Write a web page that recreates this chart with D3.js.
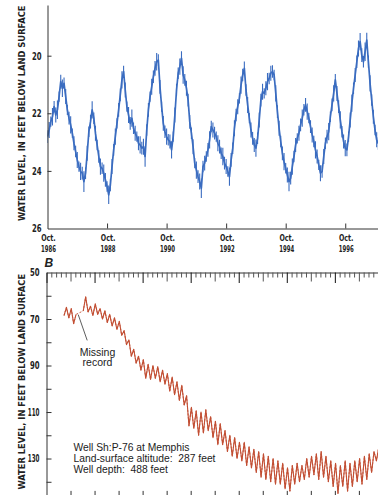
<!DOCTYPE html>
<html><head><meta charset="utf-8">
<script src="https://cdn.jsdelivr.net/npm/d3@7/dist/d3.min.js"></script>
<style>
html,body{margin:0;padding:0;background:#fff;}
svg{display:block;}
</style></head><body>
<svg id="c" width="378" height="495"></svg>
<script>
// ---------- Panel A data (water level) ----------
const topStartYear = 1986.75;      // Oct. 1986
const topStep = 1 / 18;            // years between readings
const topLevels = [
22.81,22.58,22.29,22.12,21.77,22.06,21.88,21.42,20.90,21.13,
20.96,21.42,21.88,22.17,22.40,22.69,23.04,23.33,23.62,23.85,
24.02,24.08,24.37,24.08,23.39,22.64,22.29,21.88,22.17,22.69,
23.10,23.50,23.85,23.91,24.08,24.31,24.54,24.83,24.49,23.85,
23.27,22.81,22.35,21.88,21.36,20.84,20.55,21.19,21.77,22.06,
22.35,22.17,22.52,22.69,22.81,23.04,23.10,23.21,23.16,23.50,
22.58,21.88,21.42,21.08,20.73,20.44,20.21,20.15,21.08,21.77,
22.35,22.64,22.81,22.92,22.98,23.27,22.81,22.06,21.19,20.61,
20.38,20.09,20.67,20.84,21.13,21.54,
22.30,
22.69,23.16,23.73,23.97,24.20,24.37,24.60,23.85,23.73,23.50,
23.27,22.92,22.46,22.58,22.69,22.81,23.04,23.16,23.39,23.50,
23.73,23.85,24.02,24.20,23.62,23.21,22.52,22.06,21.77,21.48,
21.02,20.67,20.44,21.19,21.71,22.17,22.58,22.87,23.10,23.21,
22.87,22.23,21.54,21.25,21.31,21.13,20.90,20.79,20.61,20.55,
20.67,21.31,21.94,22.52,22.98,23.39,23.68,23.91,24.14,24.37,
24.25,23.85,23.50,23.10,22.87,22.69,22.40,22.17,21.88,21.71,
21.94,22.17,22.46,22.75,22.98,23.27,23.50,23.79,24.08,24.02,
23.50,23.04,22.81,22.64,22.12,21.71,21.31,20.84,21.31,21.77,
22.23,22.64,22.98,23.21,23.27,22.81,22.23,21.65,21.13,20.67,
20.21,19.75,19.51,19.98,20.21,19.86,19.46,20.21,20.96,21.54,
22.12,22.58,22.92,23.05
];
// half-width of the daily fluctuation band around each reading (feet)
const topSpread = [
.22,.28,.18,.30,.20,.26,.32,.18,.24,.30,
.20,.26,.18,.22,.30,.16,.24,.20,.28,.18,
.30,.22,.36,.20,.26,.18,.24,.30,.20,.26,
.18,.22,.28,.20,.30,.24,.18,.32,.22,.26,
.20,.28,.18,.24,.22,.30,.20,.26,.18,.28,
.22,.30,.20,.26,.18,.24,.30,.22,.28,.36,
.20,.24,.18,.28,.22,.26,.30,.20,.24,.18,
.26,.22,.28,.20,.24,.30,.18,.26,.22,.20,
.28,.24,.30,.20,.26,.22,
.24,
.20,.26,.18,.30,.22,.28,.34,.20,.26,.18,
.24,.30,.20,.26,.22,.18,.28,.24,.20,.30,
.22,.26,.18,.32,.24,.20,.28,.22,.26,.18,
.30,.22,.24,.20,.28,.18,.26,.22,.24,.30,
.20,.26,.22,.28,.18,.24,.30,.20,.26,.22,
.18,.28,.22,.26,.20,.24,.30,.18,.26,.34,
.22,.28,.20,.24,.18,.26,.22,.30,.20,.24,
.28,.18,.22,.26,.20,.30,.24,.18,.28,.22,
.26,.20,.24,.30,.18,.22,.28,.20,.26,.22,
.30,.20,.24,.28,.22,.18,.26,.30,.20,.24,
.22,.28,.30,.24,.20,.32,.26,.22,.28,.20,
.24,.18,.26,.22
];
const topXTicks = [1986.75,1988.75,1990.75,1992.75,1994.75,1996.75];
const topXMonth = "Oct.";
const topXYears = ["1986","1988","1990","1992","1994","1996"];
const topYTicks = [20,22,24,26];

// ---------- Panel B data (Well Sh:P-76, half-yearly high/low) ----------
const bStartYear = 1933.65;
const bStep = 0.5;
const bLevels = [
68.5,65,69.5,65.5,72,68,null,null,66.5,60.5,
67,64.5,68.5,63.5,68,65.5,70,66.5,71.5,68,
73,69.5,74.5,71,77,75,81,79,86,83,
89,86,92,87.5,95.5,89.5,96,90,95.5,90.5,
97,92,98,93.5,101,95,102.5,97,105,98.5,
107,103,116,108,117,109.5,120,110,119,109,
118,112,121,114,124,115,124,118,127,120,
129,121,130,123,131,123,133,125,134,126,
136,127,138,128,139,129,140,130,141,131,
141,132,143,134,144,133,141,132,140,133,
139,130,138,129,137,128,139,127,138,129,
140,131,142,132,145,133,142,131,144,132,
142,131,140,130,141,129,139,128,136,127,
131,125
];
const bYTicks = [50,60,70,80,90,100,110,120,130,140];
const bYLabels = [50,70,90,110,130];
const bMinorYears = d3.range(1930, 1999);
const bBottomYears = d3.range(1935, 1999, 5);

const axisTitle = "WATER LEVEL, IN FEET BELOW LAND SURFACE";
const panelBLabel = "B";
const wellNotes = ["Well Sh:P-76 at Memphis", "Land-surface altitude:  287 feet", "Well depth:  488 feet"];
const missingNote = ["Missing", "record"];
const missingAnchor = {t: 1936.6, v: 68.1};
const missingLabelAt = {t: 1938.47, v: 79.2};

// ---------- styles ----------
const condFont = '"Liberation Sans Narrow","Arial Narrow","DejaVu Sans Condensed",sans-serif';
const regFont = '"Liberation Sans",Arial,sans-serif';
const ink = "#222";
const blue = "#3a6cc0";
const red = "#c24e33";

const svg = d3.select("#c");

// ================= Panel A =================
const xA = d3.scaleLinear().domain([1986.75, 1997.85]).range([47.5, 378]);
const yA = d3.scaleLinear().domain([18.24, 26]).range([5, 228.5]);

svg.append("clipPath").attr("id","clipA").append("rect")
  .attr("x", xA.range()[0]).attr("y", 0).attr("width", 378 - xA.range()[0]).attr("height", yA.range()[1]);

const gLineA = svg.append("g").attr("clip-path","url(#clipA)");
gLineA.selectAll("line.band").data(topLevels).join("line").attr("class","band")
  .attr("x1", (d,i) => xA(topStartYear + i*topStep))
  .attr("x2", (d,i) => xA(topStartYear + i*topStep))
  .attr("y1", (d,i) => yA(d - topSpread[i]))
  .attr("y2", (d,i) => yA(d + topSpread[i]))
  .attr("stroke", blue).attr("stroke-width", 1.1);
const lineA = d3.line()
  .x((d,i) => xA(topStartYear + i*topStep))
  .y(d => yA(d));
gLineA.append("path").datum(topLevels)
  .attr("d", lineA).attr("fill","none")
  .attr("stroke", blue).attr("stroke-width", 1.7).attr("stroke-linejoin","round");

const gAy = svg.append("g").attr("transform", `translate(${xA.range()[0]},0)`)
  .call(d3.axisLeft(yA).tickValues(topYTicks).tickSizeInner(-4).tickSizeOuter(0).tickPadding(6).tickFormat(d3.format("d")));
gAy.selectAll(".tick line").filter(d => d === 26).remove();
const gAx = svg.append("g").attr("transform", `translate(0,${yA.range()[1]})`)
  .call(d3.axisBottom(xA).tickValues(topXTicks).tickSizeInner(-5).tickSizeOuter(0).tickFormat(""));
gAx.selectAll(".tick line").filter(d => d === topXTicks[0]).remove();

topXTicks.forEach((t,i) => {
  svg.append("text").attr("x", xA(t) + 1).attr("y", yA.range()[1] + 12.5)
    .attr("text-anchor","middle").attr("font-family", condFont).attr("font-weight","bold")
    .attr("font-size", 9.3).attr("fill", ink)
    .attr("textLength", 14.5).attr("lengthAdjust","spacingAndGlyphs").text(topXMonth);
  svg.append("text").attr("x", xA(t) + 1).attr("y", yA.range()[1] + 23)
    .attr("text-anchor","middle").attr("font-family", condFont).attr("font-weight","bold")
    .attr("font-size", 9.3).attr("fill", ink)
    .attr("textLength", 15).attr("lengthAdjust","spacingAndGlyphs").text(topXYears[i]);
});

// ================= Panel B =================
const xB = d3.scaleLinear().domain([1930, 1999]).range([46.5, 378.1]);
const yB = d3.scaleLinear().domain([50, 146.5]).range([272.5, 496.9]);

svg.append("clipPath").attr("id","clipB").append("rect")
  .attr("x", 46.5).attr("y", 272.5).attr("width", 378 - 46.5).attr("height", 230);

const ptsB = bLevels.map((v,i) => ({t: bStartYear + i*bStep, v}));
const lineB = d3.line().defined(d => d.v !== null).x(d => xB(d.t)).y(d => yB(d.v));
svg.append("path").datum(ptsB.filter(d => d.v !== null))
  .attr("clip-path","url(#clipB)")
  .attr("d", lineB).attr("fill","none").attr("stroke", red).attr("stroke-width", 0.9)
  .attr("stroke-dasharray","2,1.6");
svg.append("path").datum(ptsB)
  .attr("clip-path","url(#clipB)")
  .attr("d", lineB).attr("fill","none").attr("stroke", red).attr("stroke-width", 1.1)
  .attr("stroke-linejoin","round");

const gBt = svg.append("g").attr("transform", `translate(0,${yB.range()[0]})`)
  .call(d3.axisTop(xB).tickValues(bMinorYears).tickSizeInner(-5).tickSizeOuter(0).tickFormat(""));
gBt.selectAll(".tick line")
  .attr("y2", d => d % 10 === 0 ? 10.5 : (d % 5 === 0 ? 9 : 5))
  .attr("stroke", d => d % 10 === 0 ? "#111" : "#555");

const gBy = svg.append("g").attr("transform", `translate(${xB.range()[0]},0)`)
  .call(d3.axisLeft(yB).tickValues(bYTicks).tickSizeInner(-5).tickSizeOuter(0).tickPadding(7)
    .tickFormat(d => bYLabels.includes(d) ? d : ""));
gBy.selectAll(".tick line").filter(d => d === 50).remove();

svg.append("g").attr("transform", `translate(0,${yB.range()[1]})`)
  .call(d3.axisBottom(xB).tickValues(bBottomYears).tickSizeInner(-6).tickSizeOuter(0).tickFormat(""));

svg.selectAll(".tick text").attr("font-family", condFont).attr("font-weight","bold")
  .attr("font-size", 10.5).attr("fill", ink)
  .each(function(d){
    const s = this.textContent;
    if (s.length === 3) d3.select(this).attr("textLength", 11.8).attr("lengthAdjust","spacingAndGlyphs");
    else if (s.length === 2) d3.select(this).attr("textLength", 9.6).attr("lengthAdjust","spacingAndGlyphs");
  });
svg.selectAll(".domain").attr("stroke", "#333");
svg.selectAll(".tick line").filter(function(){ const s = this.getAttribute("stroke"); return !s || s === "currentColor"; }).attr("stroke","#333");

svg.append("text").attr("x", 44.5).attr("y", 267).attr("font-family", regFont)
  .attr("font-weight","bold").attr("font-style","italic").attr("font-size", 12).attr("fill", ink)
  .text(panelBLabel);

// axis titles: size the font so the natural text length fits the axis height
const titleLen = 216;
[113.3, 381.7].forEach(cy => {
  const t = svg.append("text").attr("transform", `translate(24.5,${cy}) rotate(-90)`)
    .attr("text-anchor","middle").attr("font-family", condFont).attr("font-weight","bold")
    .attr("font-size", 10.5).attr("fill", ink).text(axisTitle);
  const natural = t.node().getComputedTextLength();
  if (natural > titleLen) {
    t.attr("font-size", 10.5 * titleLen / natural);
  } else {
    t.attr("textLength", titleLen).attr("lengthAdjust","spacingAndGlyphs");
  }
});

const notes = svg.append("text").attr("font-family", regFont).attr("font-size", 10.3).attr("fill", ink)
  .style("white-space","pre");
wellNotes.forEach((s,i) => {
  notes.append("tspan").attr("x", 73.5).attr("y", 451 + i*11).text(s);
});

svg.append("line")
  .attr("x1", xB(missingLabelAt.t)).attr("y1", yB(missingLabelAt.v))
  .attr("x2", xB(missingAnchor.t)).attr("y2", yB(missingAnchor.v))
  .attr("stroke", "#333").attr("stroke-width", 0.8);
missingNote.forEach((s,i) => {
  svg.append("text").attr("x", 97.5).attr("y", 355.5 + i*10.5).attr("text-anchor","middle")
    .attr("font-family", regFont).attr("font-size", 10.5).attr("fill", ink).text(s);
});
</script>
</body></html>
